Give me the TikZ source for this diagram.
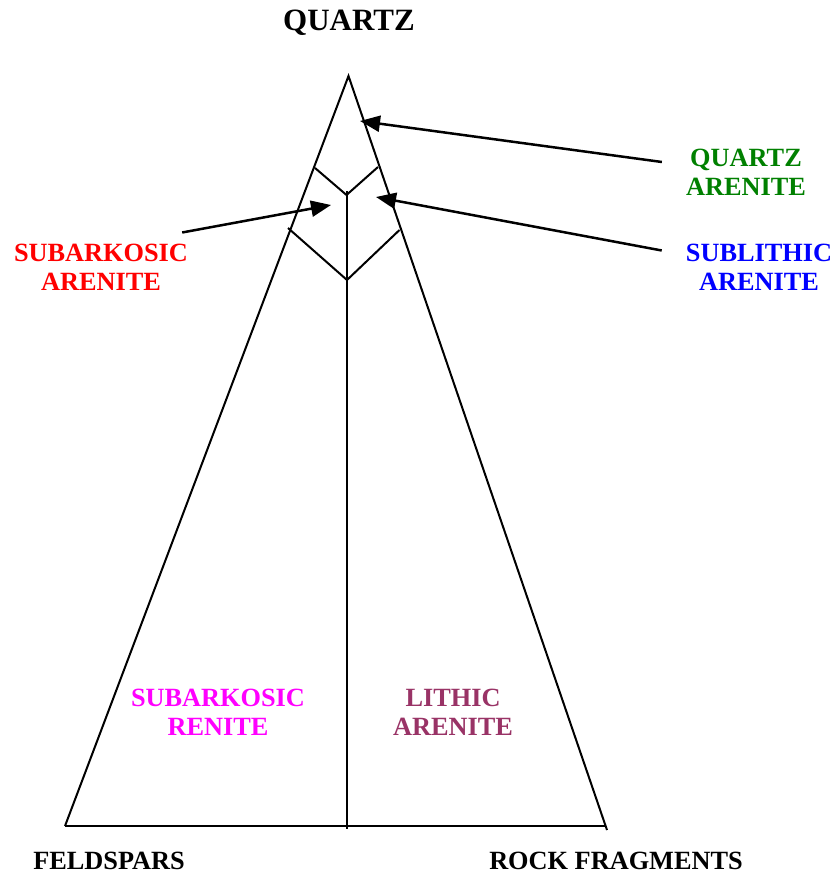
\documentclass[tikz,border=0pt]{standalone}
\usepackage{fontspec}
\setmainfont{Liberation Serif}
\usetikzlibrary{arrows.meta}
\definecolor{qgreen}{HTML}{008000}
\definecolor{sblue}{HTML}{0000FF}
\definecolor{sred}{HTML}{FF0000}
\definecolor{smag}{HTML}{FF00FF}
\definecolor{lith}{HTML}{993366}
\tikzset{
  edge/.style={line width=2pt, line join=miter},
  lbl/.style={font=\fontsize{26.3}{29}\selectfont\bfseries, align=center, inner sep=0pt},
  pointer/.style={line width=2.5pt, -{Triangle[length=20pt,width=16pt]}},
}
\begin{document}
\begin{tikzpicture}[x=1pt,y=-1pt]
\useasboundingbox (0,0) rectangle (839,877);
% triangle corners
\coordinate (apex) at (348.5,76);
\coordinate (bl) at (65,826);
\coordinate (br) at (606,826);
\coordinate (brx) at (607,830);
\draw[edge] (bl) -- (apex) -- (brx);
\draw[edge] (bl) -- (br);
% centre line
\coordinate (ctop) at (346.5,195);
\coordinate (cstub) at (346.5,191);
\coordinate (cbot) at (346.5,829);
\draw[edge] (cstub) -- (cbot);
% upper V
\coordinate (u1) at (315,168);
\coordinate (u2) at (378,167);
\draw[edge] (u1) -- (ctop) -- (u2);
% lower V
\coordinate (l1) at (288,228);
\coordinate (lv) at (347,280);
\coordinate (l2) at (399.5,230);
\draw[edge] (l1) -- (lv) -- (l2);
% labels
\node[lbl, font=\fontsize{31}{34}\selectfont\bfseries] (quartz) at (349,23) {QUARTZ};
\node[lbl, text=qgreen] (qa) at (746,172) {QUARTZ\\ARENITE};
\node[lbl, text=sblue] (sla) at (759,267.5) {SUBLITHIC\\ARENITE};
\node[lbl, text=sred] (ska) at (101,267.5) {SUBARKOSIC\\ARENITE};
\node[lbl, text=smag] (skr) at (218,712) {SUBARKOSIC\\RENITE};
\node[lbl, text=lith] (la) at (453,712) {LITHIC\\ARENITE};
\node[lbl] (feld) at (109,861) {FELDSPARS};
\node[lbl] (rock) at (616,861) {ROCK FRAGMENTS};
% arrows
\coordinate (qatip) at (360,121);
\coordinate (slatip) at (376,197);
\coordinate (skatip) at (331,205);
\draw[pointer] (qa.west) ++(-24,-10) coordinate (qas) (qas) -- (qatip);
\draw[pointer] (sla.west) ++(-24,-17) coordinate (slas) (slas) -- (slatip);
\draw[pointer] (ska.east) ++(-6,-35) coordinate (skas) (skas) -- (skatip);
\end{tikzpicture}
\end{document}
